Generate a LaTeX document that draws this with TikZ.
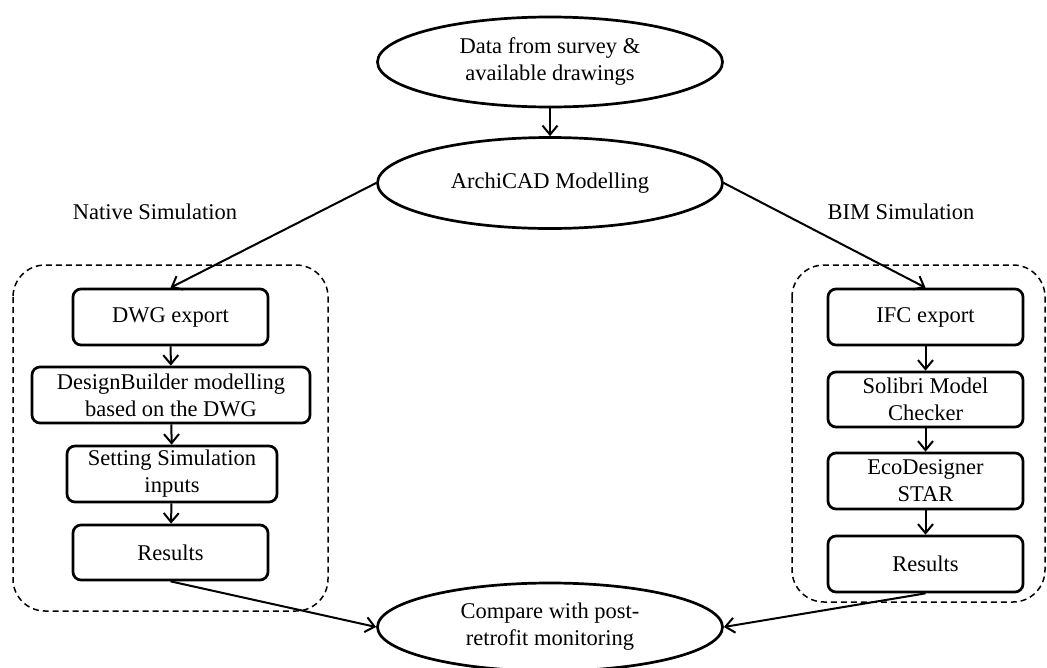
\documentclass[tikz,border=0pt]{standalone}
\usepackage{fontspec}
\setmainfont{Liberation Serif}
\usepackage{tikz}
\usetikzlibrary{shapes.geometric, arrows.meta}
\tikzset{
    every node/.style={font=\fontsize{22.5}{27}\selectfont, align=center},
    oval/.style={ellipse, draw, line width=2.7pt, inner sep=0pt,
        minimum width=345pt, minimum height=90pt},
    stepbox/.style={rectangle, draw, rounded corners=8pt, line width=2.7pt,
        inner sep=0pt, minimum width=195pt, minimum height=56pt},
    group/.style={dashed, dash pattern=on 6pt off 4pt, line width=1.5pt,
        rounded corners=32pt},
    arr/.style={-{Straight Barb[length=9pt,width=15pt]}, line width=2pt}
}

\begin{document}
\begin{tikzpicture}[x=1pt, y=-1pt]
	\useasboundingbox (0,0) rectangle (1047,667);
	\node (data) [oval] at (550, 62) {Data from survey \&\\available drawings};
	\node (arch) [oval, minimum height=91pt] at (550, 183) {ArchiCAD Modelling};
	\node (cmp) [oval, minimum height=88pt] at (550, 627) {Compare with post-\\retrofit monitoring};
	
	\node (nat) at (155, 212) {Native Simulation};
	\node (bim) at (901, 212) {BIM Simulation};
	
	\draw [group] (13, 265) rectangle (328, 611);
	\draw [group] (792, 265) rectangle (1045, 602);
	
	\node (dwg) [stepbox] at (170.5, 317) {DWG export};
	\node (db) [stepbox, minimum width=278pt] at (171, 395) {DesignBuilder modelling\\based on the DWG};
	\node (set) [stepbox, minimum width=210pt] at (172, 474) {Setting Simulation\\inputs};
	\node (res1) [stepbox, minimum height=55pt] at (170.5, 552.5) {Results};
	
	\node (ifc) [stepbox] at (925.5, 317) {IFC export};
	\node (sol) [stepbox, minimum height=55pt] at (925.5, 399.5) {Solibri Model\\Checker};
	\node (eco) [stepbox] at (925.5, 481) {EcoDesigner\\STAR};
	\node (res2) [stepbox] at (925.5, 564) {Results};
	
	\draw (data) edge[arr] (arch);
	\draw (arch.west) edge[arr] (dwg.north); \draw (arch.east) edge[arr] (ifc.north);
	\draw (dwg) edge[arr] (db); \draw (db) edge[arr] (set); \draw (set) edge[arr] (res1);
	\draw (ifc) edge[arr] (sol); \draw (sol) edge[arr] (eco); \draw (eco) edge[arr] (res2);
	\draw (res1.south) edge[arr] (cmp.west); \draw (res2.south) edge[arr] (cmp.east);
\end{tikzpicture}
\end{document}
